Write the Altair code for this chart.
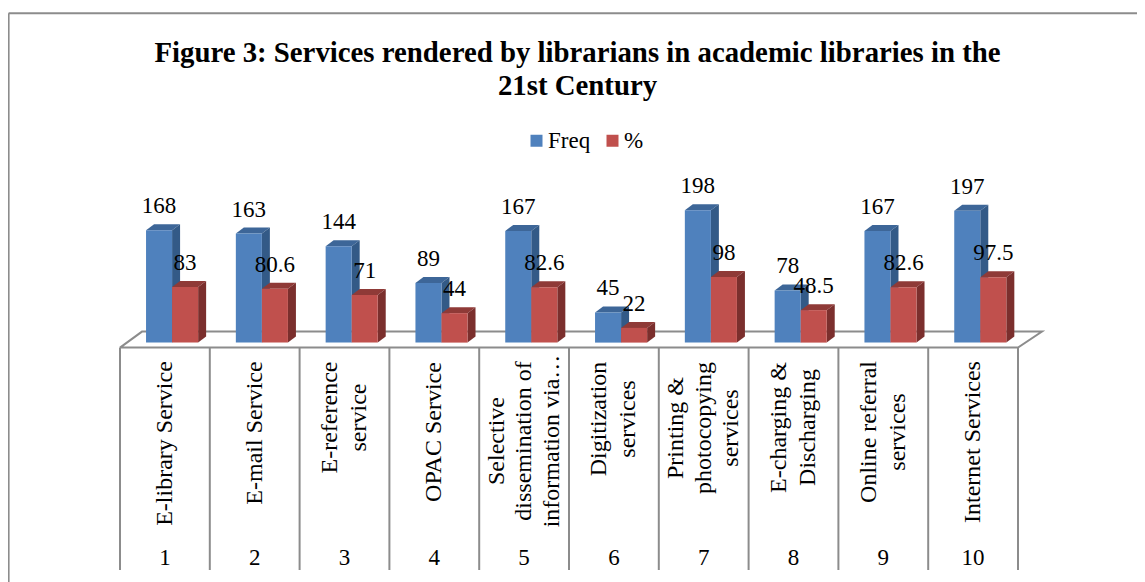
import altair as alt
import pandas as pd

numbers = [str(i) for i in range(1, 11)]
services = [
    "E-library Service", "E-mail Service", "E-reference\nservice", "OPAC Service",
    "Selective\ndissemination of\ninformation via…", "Digitization\nservices",
    "Printing &\nphotocopying\nservices", "E-charging &\nDischarging",
    "Online referral\nservices", "Internet Services",
]
freq = [168, 163, 144, 89, 167, 45, 198, 78, 167, 197]
pct = [83, 80.6, 71, 44, 82.6, 22, 98, 48.5, 82.6, 97.5]
label_mid_px = [443.5, 433, 417.5, 432, 441, 419, 428, 427.5, 432, 442]

FONT = "Liberation Serif"
GREY = "#8c8c8c"
W, H = 1129, 574
CELL_PX = 89.8
X0_PX, Y0_PX, PER_UNIT = 120.0, 342.6, 0.669
LINE_HEIGHTS = {0: 27, 1: 29, 2: 27.5}


def ux(px):
    return (px - X0_PX) / CELL_PX


def uy(px):
    return (Y0_PX - px) / PER_UNIT


x_scale = alt.Scale(domain=[ux(8), ux(8 + W)], range=[0, W], nice=False, zero=False)
y_scale = alt.Scale(domain=[uy(8 + H), uy(8)], range=[H, 0], nice=False, zero=False)
X = lambda f="x": alt.X(f"{f}:Q", scale=x_scale, axis=None)
Y = lambda f="y": alt.Y(f"{f}:Q", scale=y_scale, axis=None)
X2 = lambda f: alt.X2(f"{f}:Q")
Y2 = lambda f: alt.Y2(f"{f}:Q")

BAR_W = 0.29
BAR_OFF = 0.29
DX, DY = 8 / CELL_PX, 6 / PER_UNIT

rows, sides, tops = [], [], []
for sidx, (name, vals) in enumerate([("Freq", freq), ("%", pct)]):
    for i, v in enumerate(vals):
        a = i + BAR_OFF + sidx * BAR_W
        b = a + BAR_W
        rows.append(dict(series=name, x=a, x2=b, y=0, v=v, mid=(a + b) / 2, label=str(v)))
        g = f"{sidx}-{i}"
        sides += [
            dict(series=name, g=g, x=b, y=v, y2=0),
            dict(series=name, g=g, x=b + DX, y=v + DY, y2=DY),
        ]
        tops += [
            dict(series=name, g=g, x=a, x2=b, y=v),
            dict(series=name, g=g, x=a + DX, x2=b + DX, y=v + DY),
        ]
bars = pd.DataFrame(rows)
sides = pd.DataFrame(sides)
tops = pd.DataFrame(tops)

# frame and floor
frame = alt.Chart(pd.DataFrame([
    dict(x=ux(8.6), x2=ux(8 + W), y=uy(13.2), y2=uy(13.2)),
    dict(x=ux(8.6), x2=ux(8.6), y=uy(13.2), y2=uy(8 + H)),
])).mark_rule(color=GREY, strokeWidth=2).encode(x=X(), x2=X2("x2"), y=Y(), y2=Y2("y2"))

floor_y0, floor_y1 = uy(347.6), uy(331.6)
floor = alt.Chart(pd.DataFrame([
    dict(o=0, x=0, y=floor_y0),
    dict(o=1, x=10, y=floor_y0),
    dict(o=2, x=ux(1042), y=floor_y1),
    dict(o=3, x=ux(142), y=floor_y1),
    dict(o=4, x=0, y=floor_y0),
])).mark_line(color=GREY, strokeWidth=2).encode(x=X(), y=Y(), order="o:O")

dividers = alt.Chart(pd.DataFrame(dict(
    x=list(range(11)), y=[floor_y0] * 11, y2=[uy(570)] * 11,
))).mark_rule(color=GREY, strokeWidth=2).encode(x=X(), y=Y(), y2=Y2("y2"))

layers = [frame, floor, dividers]
side_col = {"Freq": "#335a87", "%": "#7b2f2d"}
top_col = {"Freq": "#3d6698", "%": "#8f3a37"}
color = alt.Color(
    "series:N",
    scale=alt.Scale(domain=["Freq", "%"], range=["#4f81bd", "#c0504d"]),
    legend=alt.Legend(
        title=None, orient="none", legendX=517, legendY=121, direction="horizontal",
        symbolType="square", symbolSize=144, symbolStrokeWidth=0, labelFont=FONT,
        labelFontSize=23, labelColor="black", columnPadding=10, labelOffset=0,
        symbolOpacity=1, labelLimit=200,
    ),
)
for name in ["Freq", "%"]:
    layers += [
        alt.Chart(tops[tops.series == name]).mark_area(orient="horizontal", color=top_col[name])
        .encode(x=X(), x2=X2("x2"), y=Y(), detail="g:N"),
        alt.Chart(sides[sides.series == name]).mark_area(orient="vertical", color=side_col[name])
        .encode(x=X(), y=Y(), y2=Y2("y2"), detail="g:N"),
        alt.Chart(bars[bars.series == name]).mark_rect()
        .encode(x=X(), x2=X2("x2"), y=Y("v"), y2=Y2("y"), color=color),
    ]

value_labels = alt.Chart(bars).mark_text(
    font=FONT, fontSize=23, color="black", baseline="middle", dy=-24,
).encode(x=X("mid"), y=Y("v"), text="label:N")

cats = pd.DataFrame(dict(
    x=[i + 0.5 for i in range(10)],
    breaks=[s.count("\n") for s in services],
    y=[uy(c) for c in label_mid_px],
    name=services,
    num=numbers,
    ny=[uy(558)] * 10,
))
cats["lx"] = cats.x - cats.breaks * cats.breaks.map(LINE_HEIGHTS) / 2 / CELL_PX
cat_layers = [
    alt.Chart(cats[cats.breaks == n]).mark_text(
        font=FONT, fontSize=24, color="black", angle=270, align="center", baseline="middle",
        lineBreak="\n", lineHeight=lh,
    ).encode(x=X("lx"), y=Y(), text="name:N")
    for n, lh in LINE_HEIGHTS.items()
]
num_labels = alt.Chart(cats).mark_text(
    font=FONT, fontSize=23, color="black", align="center", baseline="middle",
).encode(x=X(), y=Y("ny"), text="num:N")

chart = alt.layer(*layers, value_labels, *cat_layers, num_labels).properties(
    width=W, height=H, padding=0,
    autosize=alt.AutoSizeParams(type="none"),
    background="white",
    title=alt.TitleParams(
        text=["Figure 3: Services rendered by librarians in academic libraries in the", "21st Century"],
        font=FONT, fontSize=28.8, fontWeight="bold", color="black", anchor="middle",
        frame="group", lineHeight=33, offset=-107, dx=5, baseline="middle",
    ),
).configure_view(stroke=None)

chart.save("out.html", embed_options={"renderer": "svg", "actions": False})
